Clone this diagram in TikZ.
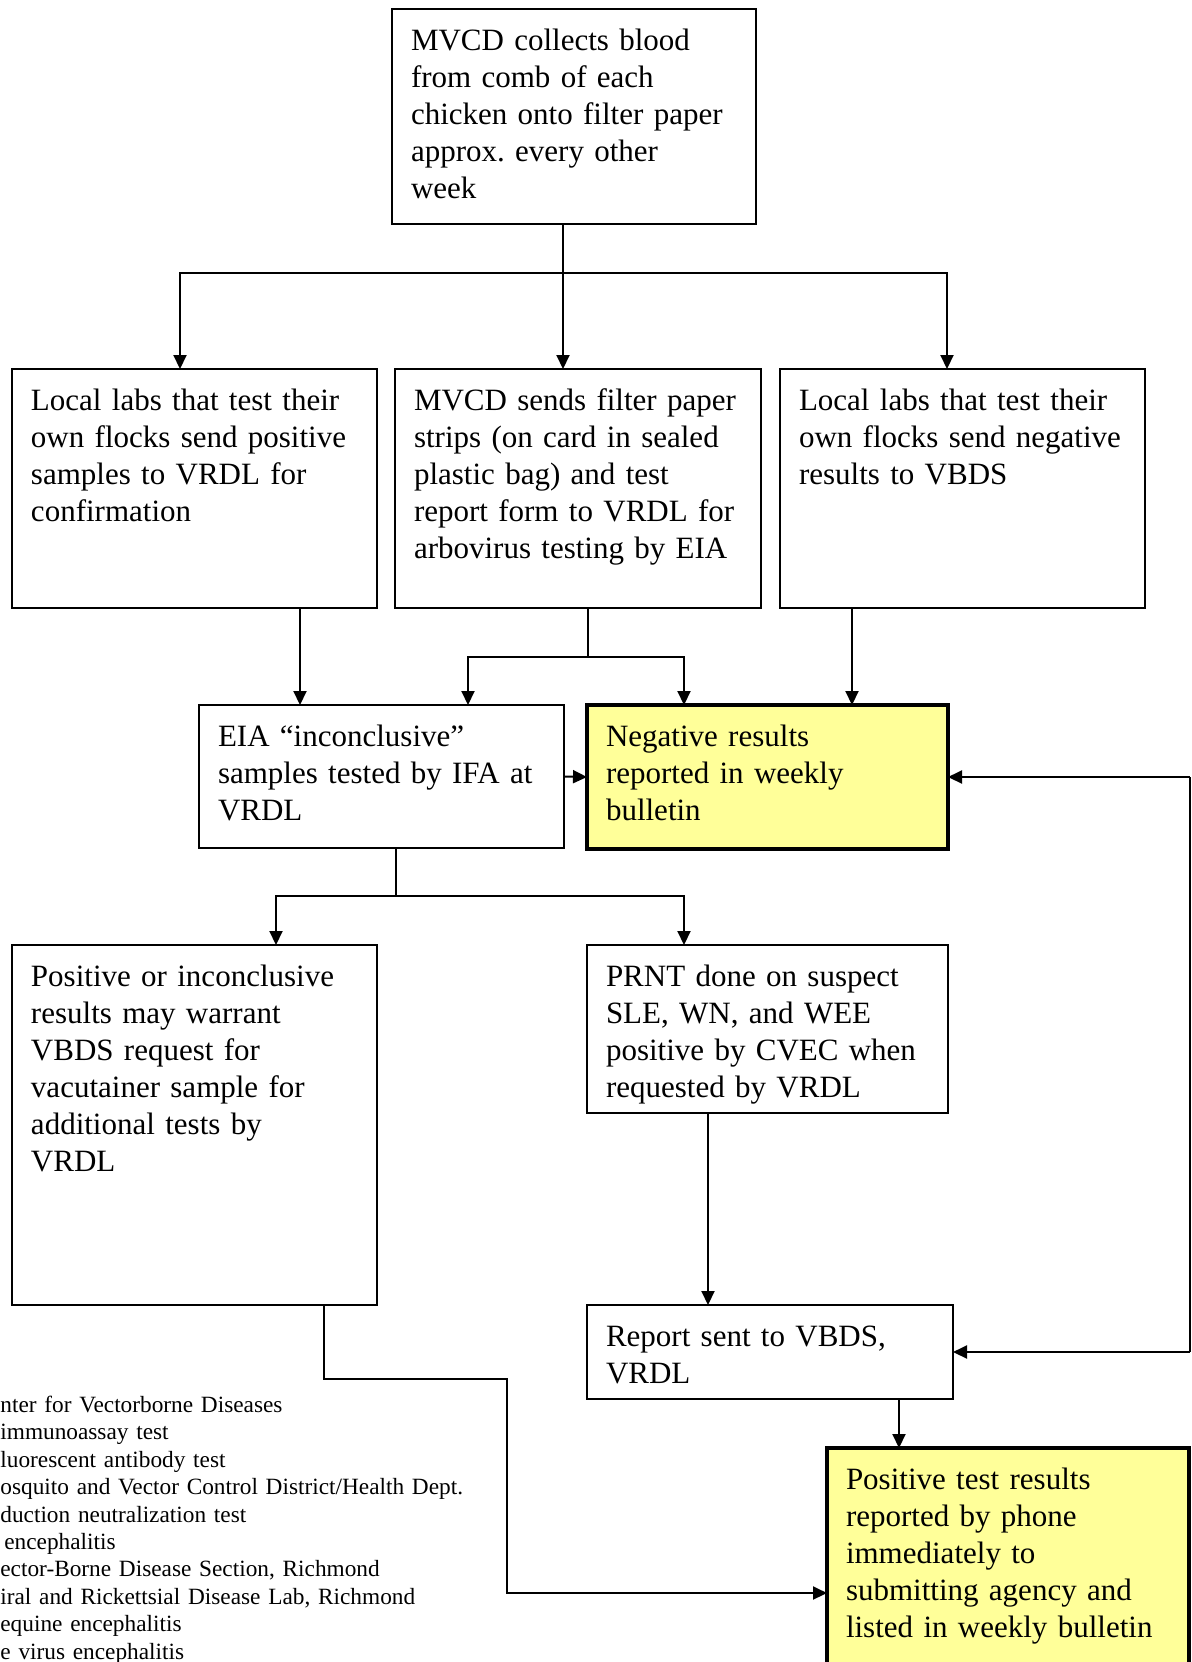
\documentclass[tikz,border=0pt]{standalone}
\usepackage{fontspec}
\setmainfont{Liberation Serif}
\usetikzlibrary{arrows.meta,calc}
\definecolor{bulletinyellow}{RGB}{255,255,153}
\hyphenpenalty=10000
\exhyphenpenalty=10000
\frenchspacing

\begin{document}
\begin{tikzpicture}[x=0.5pt,y=-0.5pt,
  flowbox/.style 2 args={draw,line width=1pt,anchor=north west,outer sep=0pt,
    inner xsep=9.5pt,inner ysep=0pt,align=left,text width=#1,
    text height=20.5pt,text depth=#2,font=\fontsize{15.5}{18.5}\selectfont},
  resultbox/.style={fill=bulletinyellow,line width=2.25pt},
  flowline/.style={line width=1pt},
  flowarrow/.style={line width=1pt,-{Triangle[length=7pt,width=6.5pt]}},
  abbrev/.style={anchor=north west,inner sep=0pt,align=left,text width=260pt,
    text height=9pt,font=\fontsize{11.65}{13.7}\selectfont}]
 \useasboundingbox (0,0) rectangle (1191,1662);
 \clip (0,0) rectangle (1191,1662);

    % Draw boxes
    \node[flowbox={163pt}{87pt}] (collect) at (392,9)
        {MVCD collects blood\\from comb of each\\chicken onto filter paper\\approx. every other\\week};
    \node[flowbox={163.5pt}{99pt}] (poslab) at (12,369)
        {Local labs that test their\\own flocks send positive\\samples to VRDL for\\confirmation};
    \node[flowbox={164pt}{99pt}] (sendvrdl) at (395,369)
        {MVCD sends filter paper\\strips (on card in sealed\\plastic bag) and test\\report form to VRDL for\\arbovirus testing by EIA};
    \node[flowbox={163.5pt}{99pt}] (neglab) at (780,369)
        {Local labs that test their\\own flocks send negative\\results to VBDS};
    \node[flowbox={163.5pt}{51pt}] (eia) at (199,705)
        {EIA “inconclusive”\\samples tested by IFA at\\VRDL};
    \node[flowbox={161.5pt}{51.5pt},resultbox] (negres) at (587,705)
        {Negative results\\reported in weekly\\bulletin};
    \node[flowbox={163.5pt}{159.5pt}] (posinc) at (12,945)
        {Positive or inconclusive\\results may warrant\\VBDS request for\\vacutainer sample for\\additional tests by\\VRDL};
    \node[flowbox={161.5pt}{63.5pt}] (prnt) at (587,945)
        {PRNT done on suspect\\SLE, WN, and WEE\\positive by CVEC when\\requested by VRDL};
    \node[flowbox={164pt}{26.5pt}] (report) at (587,1305)
        {Report sent to VBDS,\\VRDL};
    \node[flowbox={162pt}{120pt},resultbox] (posres) at (827,1448)
        {Positive test results\\reported by phone\\immediately to\\submitting agency and\\listed in weekly bulletin};

    % Draw abbreviations
    \node[abbrev] (legend) at (0,1394)
        {nter for Vectorborne Diseases\\immunoassay test\\luorescent antibody test\\osquito and Vector Control District/Health Dept.\\duction neutralization test\\\hspace*{2pt}encephalitis\\ector-Borne Disease Section, Richmond\\iral and Rickettsial Disease Lab, Richmond\\equine encephalitis\\e virus encephalitis};

    % Draw connectors from the top box
    \coordinate (split1) at ($(collect.south west)+(171,49)$);
    \draw[flowline] ($(collect.south west)+(171,0)$) -- (split1);
    \draw[flowarrow] (split1) -| ($(poslab.north west)+(168,0)$);
    \draw[flowarrow] (split1) -- ($(sendvrdl.north west)+(168,0)$);
    \draw[flowarrow] (split1) -| ($(neglab.north west)+(167,0)$);

    % Draw connectors into the third row
    \draw[flowarrow] ($(poslab.south west)+(288,0)$) -- ($(eia.north west)+(101,0)$);
    \coordinate (split2) at ($(sendvrdl.south west)+(193,49)$);
    \draw[flowline] ($(sendvrdl.south west)+(193,0)$) -- (split2);
    \draw[flowarrow] (split2) -| ($(eia.north west)+(269,0)$);
    \draw[flowarrow] (split2) -| ($(negres.north west)+(97,0)$);
    \draw[flowarrow] ($(neglab.south west)+(72,0)$) -- ($(negres.north west)+(265,0)$);
    \draw[flowarrow] (eia.east) -- (negres.west);

    % Draw feedback along the right edge
    \coordinate (edgetop) at (1190,777);
    \coordinate (edgebot) at (1190,1352);
    \draw[flowarrow] (edgetop) -- (negres.east);
    \draw[flowline] (edgetop) -- (edgebot);
    \draw[flowarrow] (edgebot) -- (report.east);

    % Draw connectors into the fourth row
    \coordinate (split3) at ($(eia.south west)+(197,48)$);
    \draw[flowline] ($(eia.south west)+(197,0)$) -- (split3);
    \draw[flowarrow] (split3) -| ($(posinc.north west)+(264,0)$);
    \draw[flowarrow] (split3) -| ($(prnt.north west)+(97,0)$);
    \draw[flowarrow] ($(prnt.south west)+(121,0)$) -- ($(report.north west)+(121,0)$);
    \draw[flowarrow] ($(report.south west)+(312,0)$) -- ($(posres.north west)+(72,0)$);
    \draw[flowarrow] ($(posinc.south west)+(312,0)$) |- ++(183,74)
        |- ($(posres.north west)+(0,145)$);

\end{tikzpicture}
\end{document}
